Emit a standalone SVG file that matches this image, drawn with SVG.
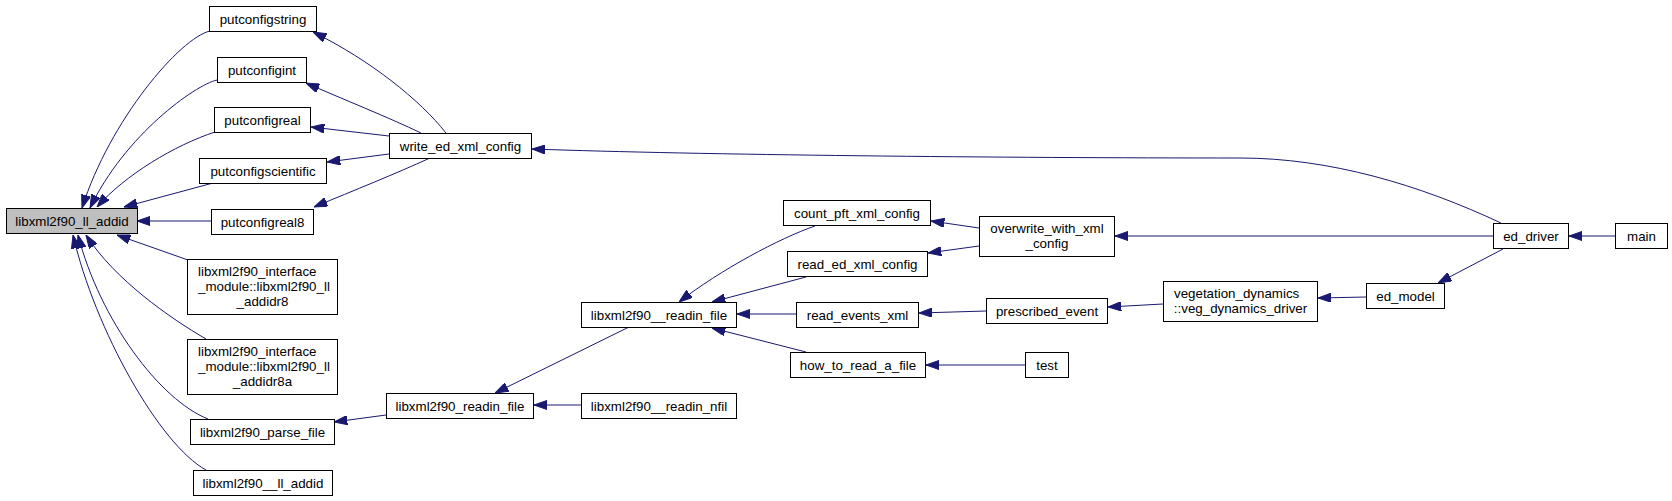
<svg xmlns="http://www.w3.org/2000/svg" width="1672" height="501" viewBox="0 0 1672 501">
<style>
.n rect{fill:#ffffff;stroke:#000000;stroke-width:1}
.n.hl rect{fill:#bfbfbf}
.n text{font-family:"Liberation Sans",Arial,Helvetica,sans-serif;font-size:13.33px;fill:#000000;text-anchor:middle}
.n text.l{text-anchor:start}
#edges path{fill:none;stroke:#191970;stroke-width:1;marker-end:url(#ah)}
</style>
<defs>
<marker id="ah" markerUnits="userSpaceOnUse" viewBox="0 0 13.3 9.3" markerWidth="13.3" markerHeight="9.3" refX="13.3" refY="4.65" orient="auto">
<path d="M0,0 L13.3,4.65 L0,9.3 z" fill="#191970" stroke="#191970" stroke-width="1"/>
</marker>
</defs>
<rect x="0" y="0" width="1672" height="501" fill="#ffffff"/>
<g id="edges">
<path d="M210,31 C180,38 110,120 82,208"/>
<path d="M217,80 C195,85 125,135 90,208"/>
<path d="M215,132 C175,145 125,175 97,207"/>
<path d="M213,183 L124,207"/>
<path d="M211,221 L137,221"/>
<path d="M188,260 L117,235"/>
<path d="M206,339 C170,318 115,280 86,235"/>
<path d="M208,419 C160,400 100,320 78,235"/>
<path d="M206,470 C160,445 95,330 73,235"/>
<path d="M446,133 C420,100 370,60 313,32"/>
<path d="M421,133 C390,118 340,98 306,83"/>
<path d="M389,136 L311,127"/>
<path d="M389,154 L327,162"/>
<path d="M430,158 C395,174 355,190 314,207"/>
<path d="M1501,223 C1420,185 1330,158 1240,158 C1000,158 700,155 532,149"/>
<path d="M386,415 L334,422"/>
<path d="M629,327 L495,393"/>
<path d="M581,405 L534,405"/>
<path d="M815,226 C780,238 720,270 679,302"/>
<path d="M806,277 L712,302"/>
<path d="M796,314 L737,314"/>
<path d="M806,352 L712,328"/>
<path d="M979,228 L931,221"/>
<path d="M979,246 L928,253"/>
<path d="M986,311 L919,313"/>
<path d="M1025,365 L926,365"/>
<path d="M1493,236 L1115,236"/>
<path d="M1163,304 L1108,307"/>
<path d="M1366,297 L1318,298"/>
<path d="M1503,249 L1438,283"/>
<path d="M1615,236 L1569,236"/>
</g>
<g id="n_ll" class="n hl"><rect x="6.5" y="208.5" width="131" height="25"/><text x="72" y="225.5">libxml2f90_ll_addid</text></g>
<g id="n_ps" class="n"><rect x="209.5" y="6.5" width="107" height="25"/><text x="263" y="23.5">putconfigstring</text></g>
<g id="n_pi" class="n"><rect x="217.5" y="57.5" width="89" height="25"/><text x="262" y="74.5">putconfigint</text></g>
<g id="n_pr" class="n"><rect x="214.5" y="107.5" width="96" height="25"/><text x="262.5" y="124.5">putconfigreal</text></g>
<g id="n_psc" class="n"><rect x="199.5" y="158.5" width="127" height="25"/><text x="263" y="175.5">putconfigscientific</text></g>
<g id="n_pr8" class="n"><rect x="211.5" y="209.5" width="102" height="25"/><text x="262.5" y="226.5">putconfigreal8</text></g>
<g id="n_r8" class="n"><rect x="187.5" y="259.5" width="150" height="55"/><text class="l" x="198" y="275.5">libxml2f90_interface</text><text class="l" x="198" y="290.5">_module::libxml2f90_ll</text><text x="262.5" y="305.5">_addidr8</text></g>
<g id="n_r8a" class="n"><rect x="187.5" y="339.5" width="150" height="55"/><text class="l" x="198" y="355.5">libxml2f90_interface</text><text class="l" x="198" y="370.5">_module::libxml2f90_ll</text><text x="262.5" y="385.5">_addidr8a</text></g>
<g id="n_pf" class="n"><rect x="190.5" y="419.5" width="144" height="25"/><text x="262.5" y="436.5">libxml2f90_parse_file</text></g>
<g id="n_ll2" class="n"><rect x="193.5" y="470.5" width="139" height="25"/><text x="263" y="487.5">libxml2f90__ll_addid</text></g>
<g id="n_we" class="n"><rect x="389.5" y="133.5" width="142" height="25"/><text x="460.5" y="150.5">write_ed_xml_config</text></g>
<g id="n_rf" class="n"><rect x="386.5" y="393.5" width="147" height="25"/><text x="460" y="410.5">libxml2f90_readin_file</text></g>
<g id="n_rf2" class="n"><rect x="581.5" y="302.5" width="155" height="25"/><text x="659" y="319.5">libxml2f90__readin_file</text></g>
<g id="n_nfil" class="n"><rect x="581.5" y="393.5" width="155" height="25"/><text x="659" y="410.5">libxml2f90__readin_nfil</text></g>
<g id="n_cp" class="n"><rect x="783.5" y="200.5" width="147" height="25"/><text x="857" y="217.5">count_pft_xml_config</text></g>
<g id="n_re" class="n"><rect x="787.5" y="251.5" width="140" height="25"/><text x="857.5" y="268.5">read_ed_xml_config</text></g>
<g id="n_rev" class="n"><rect x="796.5" y="302.5" width="122" height="25"/><text x="857.5" y="319.5">read_events_xml</text></g>
<g id="n_how" class="n"><rect x="790.5" y="352.5" width="135" height="25"/><text x="858" y="369.5">how_to_read_a_file</text></g>
<g id="n_ow" class="n"><rect x="979.5" y="216.5" width="135" height="40"/><text x="1047" y="232.5">overwrite_with_xml</text><text x="1047" y="247.5">_config</text></g>
<g id="n_pe" class="n"><rect x="986.5" y="298.5" width="121" height="25"/><text x="1047" y="315.5">prescribed_event</text></g>
<g id="n_test" class="n"><rect x="1025.5" y="352.5" width="43" height="25"/><text x="1047" y="369.5">test</text></g>
<g id="n_veg" class="n"><rect x="1163.5" y="281.5" width="154" height="40"/><text class="l" x="1174" y="297.5">vegetation_dynamics</text><text x="1240.5" y="312.5">::veg_dynamics_driver</text></g>
<g id="n_ed" class="n"><rect x="1493.5" y="223.5" width="75" height="25"/><text x="1531" y="240.5">ed_driver</text></g>
<g id="n_em" class="n"><rect x="1366.5" y="283.5" width="78" height="25"/><text x="1405.5" y="300.5">ed_model</text></g>
<g id="n_main" class="n"><rect x="1615.5" y="223.5" width="52" height="25"/><text x="1641.5" y="240.5">main</text></g>
</svg>
